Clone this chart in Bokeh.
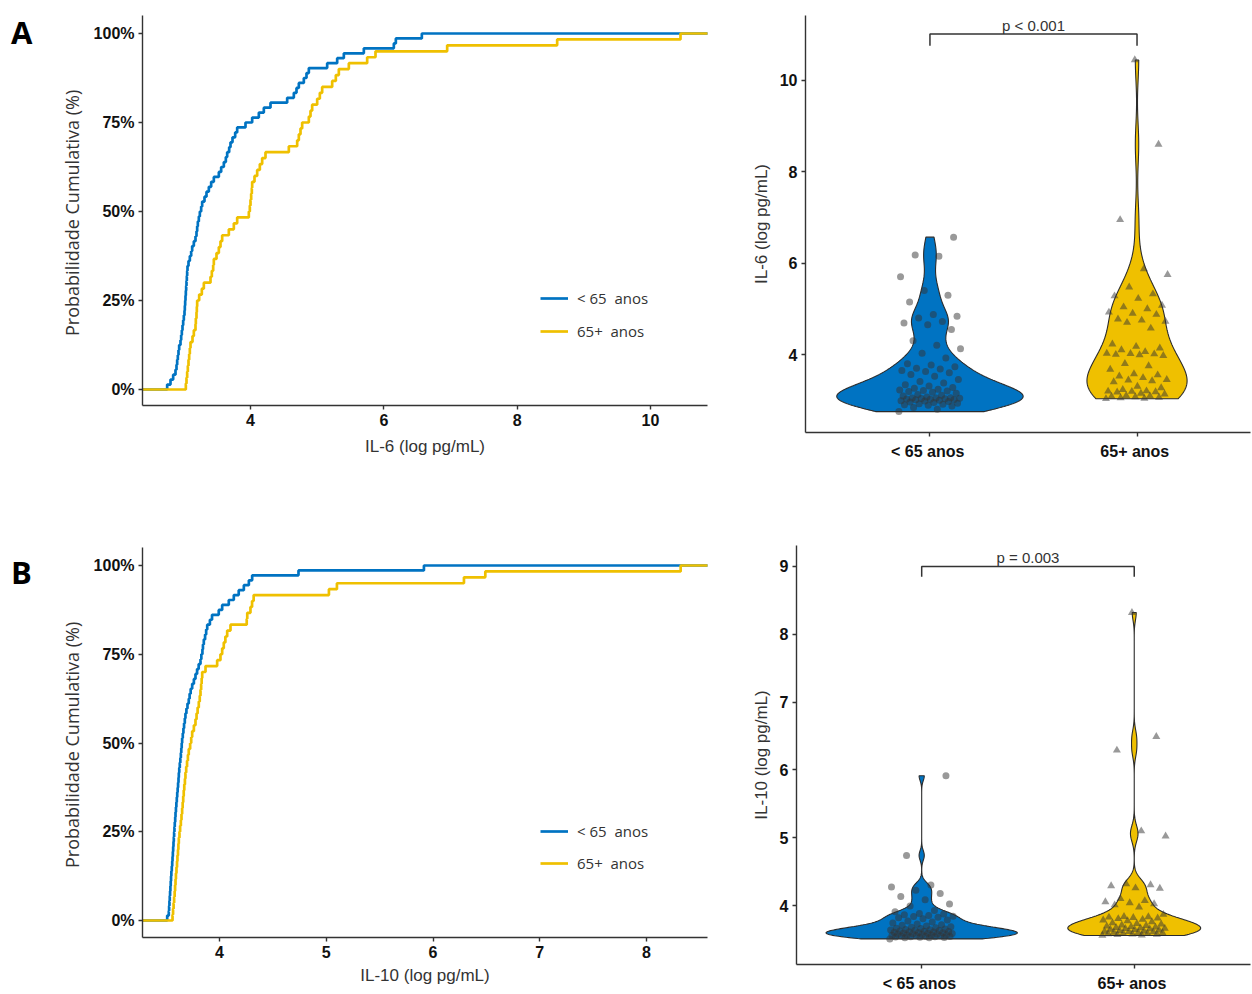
import numpy as np
from bokeh.plotting import figure
from bokeh.models import Range1d, FixedTicker, Legend, LegendItem, NumeralTickFormatter, Div
from bokeh.layouts import row, column
from bokeh.embed import file_html
from bokeh.resources import INLINE
from bokeh.core.properties import value

# ---------------- data ----------------
groups = ["< 65  anos", "65+  anos"]
panel_letters = ["A", "B"]

il6_lt65 = [2.75, 2.80, 2.84, 2.875, 2.89, 2.90, 2.91, 2.92, 2.93, 2.95,
            2.96, 2.97, 2.98, 2.99, 3.00, 3.01, 3.015, 3.02, 3.025,
            3.03, 3.035, 3.04, 3.045, 3.05, 3.055, 3.07, 3.09, 3.11, 3.125,
            3.15, 3.175, 3.19, 3.20, 3.21, 3.225, 3.24, 3.26, 3.275,
            3.31, 3.34, 3.375, 3.41, 3.45, 3.525, 3.56, 3.60, 3.63, 3.65, 3.68, 3.70,
            3.73, 3.77, 3.80, 3.925, 4.025, 4.125, 4.20, 4.30, 4.55, 4.65, 4.69, 4.725,
            4.80, 4.84, 4.875, 5.15, 5.30, 5.40, 5.70, 6.15, 6.18, 6.57]

il6_65p = [3.03, 3.04, 3.05, 3.06, 3.07, 3.08, 3.09, 3.10, 3.13, 3.15, 3.175,
           3.18, 3.19, 3.195, 3.20, 3.23, 3.27, 3.30, 3.40, 3.42, 3.44, 3.45,
           3.49, 3.525, 3.55, 3.575, 3.675, 3.75, 3.80, 3.975, 3.99, 4.00,
           4.01, 4.02, 4.025, 4.06, 4.10, 4.14, 4.175, 4.225, 4.575, 4.70, 4.725,
           4.75, 4.775, 4.875, 4.90, 4.925, 5.00, 5.04, 5.075, 5.225, 5.28, 5.325,
           5.475, 5.75, 5.875, 6.95, 8.60, 10.45]

il10_lt65 = [3.51, 3.525, 3.528, 3.531, 3.534, 3.537, 3.540, 3.543, 3.546, 3.549, 3.553, 3.557,
             3.560, 3.563, 3.566, 3.569, 3.572, 3.575, 3.578, 3.581, 3.585, 3.588,
             3.592, 3.596, 3.600, 3.604, 3.608, 3.612, 3.616, 3.619,
             3.623, 3.628, 3.633, 3.638, 3.642, 3.646, 3.650,
             3.656, 3.662, 3.668, 3.675, 3.681, 3.69, 3.70, 3.712, 3.72, 3.73, 3.744,
             3.76, 3.775, 3.79, 3.805, 3.822, 3.83, 3.84, 3.845, 3.853, 3.865, 3.875, 3.885,
             3.91, 3.93, 3.993, 4.025, 4.087, 4.134, 4.18, 4.228, 4.275, 4.306, 4.74, 5.915]

il10_65p = [3.560, 3.565, 3.570, 3.575, 3.580, 3.584, 3.588,
            3.592, 3.597, 3.602, 3.606, 3.611, 3.615, 3.619,
            3.625, 3.631, 3.638, 3.644, 3.650,
            3.655, 3.660, 3.665, 3.670, 3.676, 3.681,
            3.688, 3.696, 3.704, 3.712, 3.725, 3.735, 3.744,
            3.76, 3.775, 3.785, 3.795, 3.806,
            3.815, 3.822, 3.828, 3.833, 3.838, 3.869, 3.978, 4.009, 4.025, 4.04, 4.055, 4.072, 4.103,
            4.255, 4.26, 4.29, 4.305, 4.32, 5.025, 5.10, 6.29, 6.49, 8.32]

p_il6 = "p < 0.001"
p_il10 = "p = 0.003"
pct_ticks = [0, 0.25, 0.5, 0.75, 1.0]
il6_xticks = [4, 6, 8, 10]
il10_xticks = [4, 5, 6, 7, 8]
il6_yticks = [4, 6, 8, 10]
il10_yticks = [4, 5, 6, 7, 8, 9]
ylab_ecdf = "Probabilidade Cumulativa  (%)"
xlab_il6 = "IL-6 (log pg/mL)"
xlab_il10 = "IL-10 (log pg/mL)"

BLUE = "#0073C2"
YELLOW = "#EFC000"
AXC = "#333333"


def style(p):
    p.xgrid.visible = False
    p.ygrid.visible = False
    p.outline_line_color = None
    p.background_fill_color = "white"
    p.border_fill_color = "white"
    for ax in (p.xaxis[0], p.yaxis[0]):
        ax.axis_line_color = AXC
        ax.axis_line_width = 1.4
        ax.major_tick_line_color = AXC
        ax.major_tick_line_width = 1.4
        ax.major_tick_out = 4
        ax.major_tick_in = 0
        ax.minor_tick_line_color = None
        ax.major_label_text_font = "Liberation Sans"
        ax.major_label_text_font_style = "bold"
        ax.major_label_text_font_size = "16px"
        ax.major_label_text_color = "#111111"
        ax.major_label_standoff = 4
        ax.axis_label_text_font = "Liberation Sans"
        ax.axis_label_text_font_style = "normal"
        ax.axis_label_text_font_size = "17px"
        ax.axis_label_text_color = "#333333"
        ax.axis_label_standoff = 4


def letter_div(letter, h, top):
    html = ('<div style="margin:%dpx 0 0 11px; font-family:\'Open Sans\'; font-weight:bold; '
            'font-size:31px; line-height:31px; color:black;">%s</div>' % (top, letter))
    return Div(text=html, width=40, height=h, margin=(0, 0, 0, 0))


def make_ecdf(w, h, mb, xr, yr, xticks, xlabel, datasets, leg_loc, leg_spacing, xlab_standoff):
    p = figure(width=w, height=h, x_range=Range1d(*xr), y_range=Range1d(*yr),
               output_backend="svg", toolbar_location=None,
               min_border_left=mb[0], min_border_right=mb[1],
               min_border_top=mb[2], min_border_bottom=mb[3])
    style(p)
    rends = []
    for data, color in zip(datasets, [BLUE, YELLOW]):
        s = np.sort(np.asarray(data, dtype=float))
        n = len(s)
        xs = np.concatenate([[xr[0] - 1.0], s, [xr[1] + 1.0]])
        ys = np.concatenate([[0.0], np.arange(1, n + 1) / n, [1.0]])
        rends.append(p.step(xs, ys, mode="after", line_color=color, line_width=2.7))
    p.xaxis.ticker = FixedTicker(ticks=xticks)
    p.yaxis.ticker = FixedTicker(ticks=pct_ticks)
    p.yaxis.formatter = NumeralTickFormatter(format="0%")
    p.xaxis.axis_label = xlabel
    p.xaxis.axis_label_standoff = xlab_standoff
    p.yaxis.axis_label = ylab_ecdf
    p.yaxis.axis_label_text_font = "Open Sans"
    p.yaxis.axis_label_text_font_size = "18px"
    p.yaxis.axis_label_standoff = 7
    leg = Legend(items=[LegendItem(label=groups[0], renderers=[rends[0]]),
                        LegendItem(label=groups[1], renderers=[rends[1]])],
                 location=leg_loc, orientation="vertical",
                 border_line_color=None, background_fill_alpha=0.0,
                 padding=0, margin=0, spacing=leg_spacing,
                 glyph_width=28, glyph_height=20, label_height=20, label_standoff=9,
                 label_text_font="Open Sans", label_text_font_size="15px",
                 label_text_color="#333333")
    p.add_layout(leg)
    return p


def make_violin(w, h, mb, xr, yr, yticks, ylabel, datasets, bracket, ptext):
    p = figure(width=w, height=h, x_range=Range1d(*xr), y_range=Range1d(*yr),
               output_backend="svg", toolbar_location=None,
               min_border_left=mb[0], min_border_right=mb[1],
               min_border_top=mb[2], min_border_bottom=mb[3])
    style(p)
    dens = []
    for d in datasets:
        d = np.asarray(d, dtype=float)
        n = len(d)
        sd = d.std(ddof=1)
        q75, q25 = np.percentile(d, [75, 25])
        bw = 0.9 * min(sd, (q75 - q25) / 1.34) * n ** (-0.2)
        grid = np.linspace(d.min(), d.max(), 512)
        k = np.exp(-0.5 * ((grid[:, None] - d[None, :]) / bw) ** 2).sum(axis=1) / (n * bw * np.sqrt(2 * np.pi))
        dens.append((grid, k))
    mx = max(k.max() for _, k in dens)
    colors = [BLUE, YELLOW]
    for i, (grid, k) in enumerate(dens):
        half = 0.45 * k / mx
        cx = i + 1
        xs = np.concatenate([cx - half, (cx + half)[::-1]])
        ys = np.concatenate([grid, grid[::-1]])
        p.patch(xs, ys, fill_color=colors[i], line_color="#2b2b2b", line_width=1.1)
    markers = ["circle", "triangle"]
    for i, d in enumerate(datasets):
        s = np.sort(np.asarray(d, dtype=float))
        jit = ((np.arange(len(s)) * 0.6180339887) % 1.0 - 0.5) * 0.30
        p.scatter(i + 1 + jit, s, marker=markers[i], size=7 if i == 0 else 8,
                  fill_color="#333333", fill_alpha=0.5, line_color=None)
    yb, dy = bracket
    p.line([1, 1, 2, 2], [yb - dy, yb, yb, yb - dy], line_color=AXC, line_width=1.5)
    p.text(x=[1.5], y=[yb], text=[ptext], text_align="center", text_baseline="bottom",
           text_font=value("Liberation Sans"), text_font_size="15px", text_color="#333333")
    p.xaxis.ticker = FixedTicker(ticks=[1, 2])
    p.xaxis.major_label_overrides = {1: groups[0], 2: groups[1]}
    p.xaxis.major_label_standoff = 6
    p.yaxis.ticker = FixedTicker(ticks=yticks)
    p.yaxis.axis_label = ylabel
    p.yaxis.axis_label_standoff = 6
    return p


# top-left: IL-6 ECDF (frame x 142..707, y 15..405)
tl = make_ecdf(708, 530, (102, 41, 15, 125), (2.38, 10.855), (-16 / 356, 1 + 18 / 356),
               il6_xticks, xlab_il6, [il6_lt65, il6_65p], (398, 64), 13, 8)
# bottom-left: IL-10 ECDF (frame x 142..707, y 547..937)
bl = make_ecdf(708, 464, (102, 41, 17, 57), (3.2787, 8.5714), (-17 / 355, 1 + 18 / 355),
               il10_xticks, xlab_il10, [il10_lt65, il10_65p], (398, 64), 12, 5)
# top-right: IL-6 violin (frame x 803..1250, y 15..432)
tr = make_violin(504, 530, (55, 2, 15, 98), (0.399, 2.548), (4 - 78 / 45.67, 10 + 65 / 45.67),
                 il6_yticks, "IL-6 (log pg/mL)", [il6_lt65, il6_65p], (11.02, 0.26), p_il6)
# bottom-right: IL-10 violin (frame x 793..1250, y 545..965)
br = make_violin(504, 464, (45, 2, 15, 29), (0.411, 2.547), (4 - 59 / 68, 9 + 21 / 68),
                 il10_yticks, "IL-10 (log pg/mL)", [il10_lt65, il10_65p], (9.0, 0.15), p_il10)

layout = column(row(letter_div(panel_letters[0], 530, 17), column(tl), column(tr)),
                row(letter_div(panel_letters[1], 464, 27), column(bl), column(br)))
open("out.html", "w").write(file_html(layout, INLINE))
